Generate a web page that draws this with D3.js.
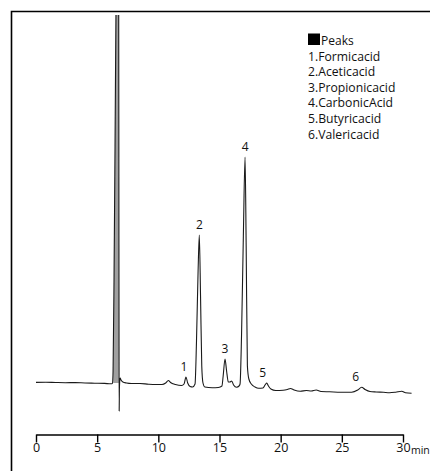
<!DOCTYPE html>
<html>
<head>
<meta charset="utf-8">
<script src="https://cdn.jsdelivr.net/npm/d3@7"></script>
<style>
  html, body { margin: 0; padding: 0; background: #fff; }
  svg { display: block; }
  text { font-family: "Open Sans", "Liberation Sans", sans-serif; fill: #111; }
</style>
</head>
<body>
<svg id="chart" width="430" height="471"></svg>
<script>
// ---- data ----
const timeMin = [0.0, 0.8, 1.6, 2.4, 3.2, 4.0, 4.8, 5.6, 6.1, 6.25, 6.3, 6.38, 6.46, 6.54, 6.62, 6.7, 6.76, 6.775, 6.788, 6.8, 6.815, 6.84, 6.88, 6.95, 7.1, 7.4, 7.8, 8.5, 9.2, 9.8, 10.3, 10.6, 10.82, 11.0, 11.4, 11.9, 12.1, 12.26, 12.4, 12.6, 12.8, 13.0, 13.12, 13.25, 13.35, 13.45, 13.55, 13.65, 13.8, 14.4, 14.9, 15.2, 15.3, 15.45, 15.58, 15.72, 15.85, 16.0, 16.15, 16.4, 16.6, 16.68, 16.8, 16.95, 17.09, 17.18, 17.28, 17.4, 17.6, 17.9, 18.2, 18.55, 18.75, 18.86, 19.0, 19.2, 19.6, 20.2, 20.55, 20.8, 21.1, 21.6, 22.1, 22.5, 22.9, 23.3, 24.0, 24.9, 25.8, 26.3, 26.62, 26.9, 27.3, 27.8, 28.4, 28.9, 29.4, 29.9, 30.2, 30.7];
const signal = [3.6, 3.8, 3.5, 3.3, 3.4, 3.0, 2.8, 2.6, 2.2, 2.5, 15, 110, 240, 380, 470, 450, 380, 200, 40, -25, -5, 4, 8, 6, 4, 3, 2.5, 2.5, 1.8, 1.5, 1.5, 3, 5.5, 3.5, 1.5, 0.5, 2, 9, 3, -0.5, -1, 2, 45, 115, 151, 90, 20, 3, -1, -1.8, -1.5, 0, 10, 27, 15, 4, 4, 5, 1, -1.3, 0, 2, 50, 150, 229, 140, 20, 7, 2, -1, -2.3, -2, 1.5, 3, 0, -3, -4.5, -4.3, -3.5, -2.5, -4, -5.2, -4.5, -5, -4, -5.5, -5.8, -6.3, -6.2, -4, -1.3, -3.5, -5.5, -6, -6.3, -6.7, -6.2, -5.3, -6.8, -7.3];

const peakNumbers = ["1", "2", "3", "4", "5", "6"];
const peakTimes = [12.26, 13.35, 15.45, 17.09, 18.86, 26.62];
const peakHeights = [9, 151, 27, 229, 3, -1.3];
const legendTitle = "Peaks";
const legendItems = ["1.Formic acid", "2.Acetic acid", "3.Propionic acid", "4.Carbonic Acid", "5.Butyric acid", "6.Valeric acid"];
const xTicks = [0, 5, 10, 15, 20, 25, 30];
const xUnit = "min";

// ---- drawing ----
const svg = d3.select("#chart");
const x = d3.scaleLinear().domain([0, 30]).range([36, 403]);
const y = d3.scaleLinear().domain([-30, 370]).range([416, 16]);

// frame (left + top)
svg.append("path")
  .attr("d", "M11.5,471 L11.5,11.5 L430,11.5")
  .attr("fill", "none").attr("stroke", "#000").attr("stroke-width", 1.6);

svg.append("clipPath").attr("id", "plotclip")
  .append("rect").attr("x", 12).attr("y", 15).attr("width", 418).attr("height", 420);

const pts = timeMin.map((t, i) => [t, signal[i]]);

// gray interior of the off-scale solvent peak
const main = pts.filter(d => d[0] >= 6.3 && d[0] <= 6.775);
svg.append("path")
  .datum(main)
  .attr("clip-path", "url(#plotclip)")
  .attr("fill", "#a0a0a0")
  .attr("d", d3.area().x(d => x(d[0])).y0(y(3)).y1(d => y(d[1])).curve(d3.curveMonotoneX));

svg.append("path")
  .datum(pts)
  .attr("clip-path", "url(#plotclip)")
  .attr("fill", "none")
  .attr("stroke", "#1a1a1a")
  .attr("stroke-width", 1.1)
  .attr("stroke-linejoin", "round")
  .attr("d", d3.line().x(d => x(d[0])).y(d => y(d[1])).curve(d3.curveMonotoneX));

// peak labels
svg.selectAll("text.pk").data(peakNumbers).join("text")
  .attr("class", "pk")
  .attr("x", (d, i) => x(peakTimes[i]) - (i === 0 ? 2 : i === 4 ? 4 : i === 5 ? 6 : 0))
  .attr("y", (d, i) => y(peakHeights[i]) - 6)
  .attr("text-anchor", "middle")
  .attr("font-size", 12)
  .attr("fill", "#111")
  .text(d => d);

// x axis
const ax = svg.append("g")
  .attr("transform", "translate(0,434.5)")
  .call(d3.axisBottom(x).tickValues(xTicks).tickSize(8).tickSizeOuter(0).tickPadding(1).tickFormat(d3.format("d")));
ax.select(".domain").attr("stroke", "#000").attr("stroke-width", 1.4);
ax.selectAll(".tick line").attr("stroke", "#000").attr("stroke-width", 1.4);
ax.selectAll(".tick text").attr("font-size", 12.5).attr("font-family", "Open Sans, sans-serif").attr("fill", "#111");

svg.append("text")
  .attr("x", 411).attr("y", 453.5)
  .attr("font-size", 10.5)
  .attr("fill", "#111")
  .text(xUnit);

// legend
const lg = svg.append("g").attr("transform", "translate(308,0)");
lg.append("rect").attr("x", 0).attr("y", 33.5).attr("width", 12).attr("height", 11.5).attr("fill", "#000");
lg.append("text").attr("x", 13).attr("y", 44.5).attr("font-size", 12).attr("fill", "#111").text(legendTitle);
lg.selectAll("text.it").data(legendItems).join("text")
  .attr("class", "it")
  .attr("x", 0)
  .attr("y", (d, i) => 60.5 + i * 15.6)
  .attr("font-size", 12.2)
  .attr("word-spacing", -3)
  .attr("fill", "#111")
  .text(d => d);
</script>
</body>
</html>
